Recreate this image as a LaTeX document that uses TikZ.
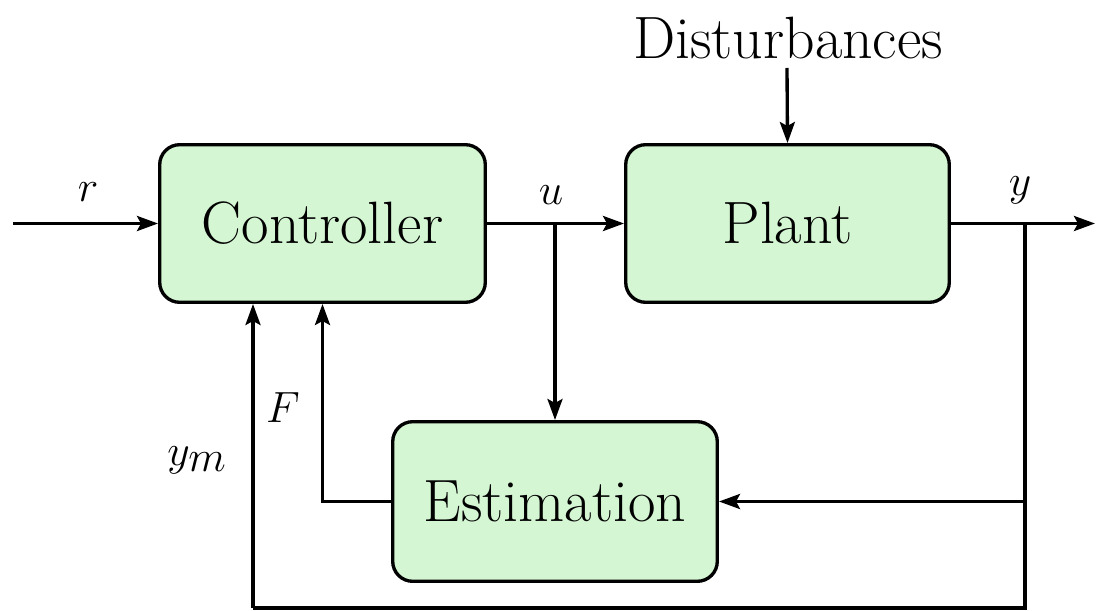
\documentclass[tikz,border=0pt]{standalone}
\usetikzlibrary{arrows.meta,calc}
\definecolor{boxgreen}{RGB}{212,246,210}
\begin{document}
\begin{tikzpicture}[x=0.02cm,y=-0.02cm,
  font=\fontsize{34pt}{40pt}\selectfont,
  blk/.style={draw=black,line width=1.9pt,fill=boxgreen,rounded corners=0.4cm,inner sep=0pt},
  arr/.style={line width=1.9pt,-{Stealth[length=0.42cm,width=0.3cm,inset=0.08cm]}},
  ln/.style={line width=1.9pt},
  lbl/.style={inner sep=0pt}]
\useasboundingbox (0,0) rectangle (1115,611);
\node[blk,minimum width=6.58cm-1.9pt,minimum height=3.22cm-1.9pt] (ctrl) at (322.5,223.5) {Controller};
\node[blk,minimum width=6.54cm-1.9pt,minimum height=3.22cm-1.9pt] (plant) at (787.5,223.5) {Plant};
\node[blk,minimum width=6.56cm-1.9pt,minimum height=3.26cm-1.9pt] (est) at (555,501.5) {Estimation};
\node[lbl] (dist) at (788,38) {Disturbances};
\coordinate (rin) at (13,223.5);
\coordinate (ub) at (555,223.5);
\coordinate (yout) at (1095,223.5);
\coordinate (yb) at (1025,223.5);
\coordinate (yd) at (1025,608);
\coordinate (ymc) at (253,608);
\coordinate (ye) at (yb |- est.east);
\coordinate (dtop) at (787,68);
\draw[arr] (rin) -- (ctrl.west);
\draw[arr] (ctrl.east) -- (plant.west);
\draw[arr] (ub) -- (est.north);
\draw[arr] (plant.east) -- (yout);
\draw[ln] (yb) -- (yd) -- (ymc);
\draw[arr] (ymc) -- (ymc |- ctrl.south);
\draw[arr] (ye) -- (est.east);
\draw[arr] (est.west) -| (ctrl.south);
\draw[arr] (dtop) -- (plant.north);
\node[lbl] (rl) at (88,192) {$r$};
\node[lbl] (ul) at (551,195) {$u$};
\node[lbl] (yl) at (1020,190) {$y$};
\node[lbl] (fl) at (283,408) {$F$};
\node[lbl] (yml) at (197,460) {$y_m$};
\end{tikzpicture}
\end{document}
